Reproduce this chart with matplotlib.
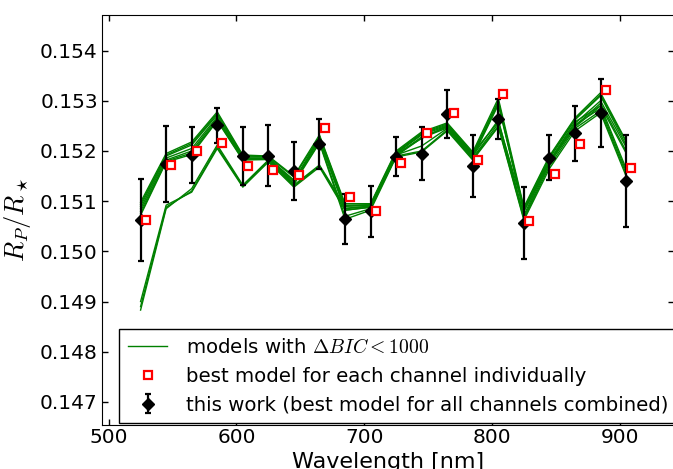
import numpy as np
import matplotlib
matplotlib.use('Agg')
import matplotlib.pyplot as plt
from matplotlib.ticker import MultipleLocator, FormatStrFormatter

plt.rcParams['mathtext.fontset'] = 'cm'
plt.rcParams['font.size'] = 14.5

# 通道中心波长 (nm)
wl = np.array([525, 545, 565, 585, 605, 625, 645, 665, 685, 705,
               725, 745, 765, 785, 805, 825, 845, 865, 885, 905])
# 本工作结果（所有通道合并的最佳模型）
rp_rs = np.array([0.15062, 0.15174, 0.15192, 0.15251, 0.15190, 0.15191, 0.15160, 0.15214, 0.15064, 0.15080,
                  0.15189, 0.15195, 0.15274, 0.15170, 0.15263, 0.15056, 0.15187, 0.15235, 0.15276, 0.15140])
rp_err = np.array([0.00082, 0.00076, 0.00056, 0.00035, 0.00058, 0.00060, 0.00058, 0.00049, 0.00050, 0.00051,
                   0.00038, 0.00052, 0.00048, 0.00062, 0.00040, 0.00072, 0.00045, 0.00055, 0.00068, 0.00091])

# 每个通道单独的最佳模型
best_wl = np.array([529, 549, 569, 589, 609, 629, 649, 669, 689, 709,
                    729, 749, 770, 789, 809, 829, 849, 869, 889, 909])
best_val = np.array([0.15063, 0.15172, 0.15199, 0.15216, 0.15171, 0.15163, 0.15152, 0.15245, 0.15108, 0.15080,
                     0.15176, 0.15235, 0.15275, 0.15182, 0.15313, 0.15061, 0.15154, 0.15213, 0.15322, 0.15166])

# ΔBIC < 1000 的模型曲线
model_1 = [0.15098, 0.15195, 0.15218, 0.15278, 0.15192, 0.15190, 0.15150, 0.15232, 0.15095, 0.15095,
           0.15200, 0.15238, 0.15256, 0.15198, 0.15305, 0.15088, 0.15190, 0.15266, 0.15316, 0.15220]
model_2 = [0.15090, 0.15190, 0.15212, 0.15272, 0.15188, 0.15188, 0.15148, 0.15228, 0.15090, 0.15092,
           0.15196, 0.15234, 0.15252, 0.15194, 0.15300, 0.15080, 0.15185, 0.15262, 0.15310, 0.15212]
model_3 = [0.15085, 0.15186, 0.15205, 0.15268, 0.15186, 0.15186, 0.15142, 0.15225, 0.15085, 0.15090,
           0.15194, 0.15225, 0.15250, 0.15190, 0.15262, 0.15072, 0.15180, 0.15258, 0.15290, 0.15165]
model_4 = [0.15080, 0.15182, 0.15200, 0.15265, 0.15185, 0.15185, 0.15140, 0.15222, 0.15082, 0.15088,
           0.15192, 0.15210, 0.15245, 0.15186, 0.15255, 0.15068, 0.15175, 0.15252, 0.15285, 0.15160]
model_5 = [0.15075, 0.15180, 0.15196, 0.15262, 0.15183, 0.15184, 0.15138, 0.15218, 0.15070, 0.15085,
           0.15190, 0.15200, 0.15242, 0.15184, 0.15250, 0.15065, 0.15170, 0.15245, 0.15280, 0.15155]
model_6 = [0.15072, 0.15178, 0.15193, 0.15260, 0.15182, 0.15183, 0.15135, 0.15216, 0.15064, 0.15082,
           0.15188, 0.15198, 0.15240, 0.15182, 0.15248, 0.15062, 0.15165, 0.15240, 0.15276, 0.15150]
model_7 = [0.15094, 0.15192, 0.15215, 0.15275, 0.15190, 0.15189, 0.15132, 0.15230, 0.15092, 0.15093,
           0.15198, 0.15236, 0.15254, 0.15196, 0.15258, 0.15085, 0.15188, 0.15264, 0.15312, 0.15218]
model_8 = [0.14883, 0.15085, 0.15125, 0.15212, 0.15132, 0.15182, 0.15132, 0.15172, 0.15090, 0.15092,
           0.15195, 0.15232, 0.15250, 0.15192, 0.15298, 0.15085, 0.15180, 0.15255, 0.15300, 0.15208]
model_9 = [0.14890, 0.15088, 0.15120, 0.15208, 0.15130, 0.15180, 0.15130, 0.15170, 0.15086, 0.15090,
           0.15192, 0.15228, 0.15248, 0.15190, 0.15295, 0.15082, 0.15178, 0.15250, 0.15295, 0.15200]
model_10 = [0.14900, 0.15092, 0.15118, 0.15205, 0.15128, 0.15178, 0.15128, 0.15168, 0.15082, 0.15088,
            0.15190, 0.15226, 0.15246, 0.15188, 0.15292, 0.15080, 0.15176, 0.15248, 0.15290, 0.15196]
models = [model_1, model_2, model_3, model_4, model_5, model_6, model_7, model_8, model_9, model_10]

fig = plt.figure(figsize=(6.73, 4.69), dpi=100)
ax = fig.add_axes([102 / 673, 44 / 469, 572 / 673, 409.5 / 469])

for i, m in enumerate(models):
    ax.plot(wl, m, color='g', lw=1.0, zorder=2,
            label=r'models with $\Delta BIC < 1000$' if i == 0 else None)

ax.plot(best_wl, best_val, 's', ms=5.5, mfc='white', mec='red', mew=1.6, zorder=5,
        label='best model for each channel individually')
ax.errorbar(wl, rp_rs, yerr=rp_err, fmt='D', color='black', ms=6, elinewidth=1.6,
            capsize=2.5, capthick=1.6, zorder=4,
            label='this work (best model for all channels combined)')

ax.set_xlim(494.8, 942.5)
ax.set_ylim(0.14654, 0.1547)
ax.yaxis.set_major_locator(MultipleLocator(0.001))
ax.yaxis.set_major_formatter(FormatStrFormatter('%.3f'))
ax.xaxis.set_major_locator(MultipleLocator(100))
ax.tick_params(direction='in', top=True, right=True, length=4, width=1)
ax.tick_params(axis='y', pad=3)
ax.tick_params(axis='x', pad=2)

ax.set_xlabel('Wavelength [nm]', fontsize=16, labelpad=4)
ax.set_ylabel(r'$R_P/R_\star$', fontsize=19)
ax.yaxis.set_label_coords(-0.12, 0.5)

leg = ax.legend(loc='lower left', bbox_to_anchor=(0.0297, 0.004), borderaxespad=0,
                fancybox=False, framealpha=1, edgecolor='black', numpoints=1,
                fontsize=14.2, handletextpad=0.95, borderpad=0.45)
leg.get_frame().set_linewidth(1.0)

fig.savefig('out.png', dpi=100)
